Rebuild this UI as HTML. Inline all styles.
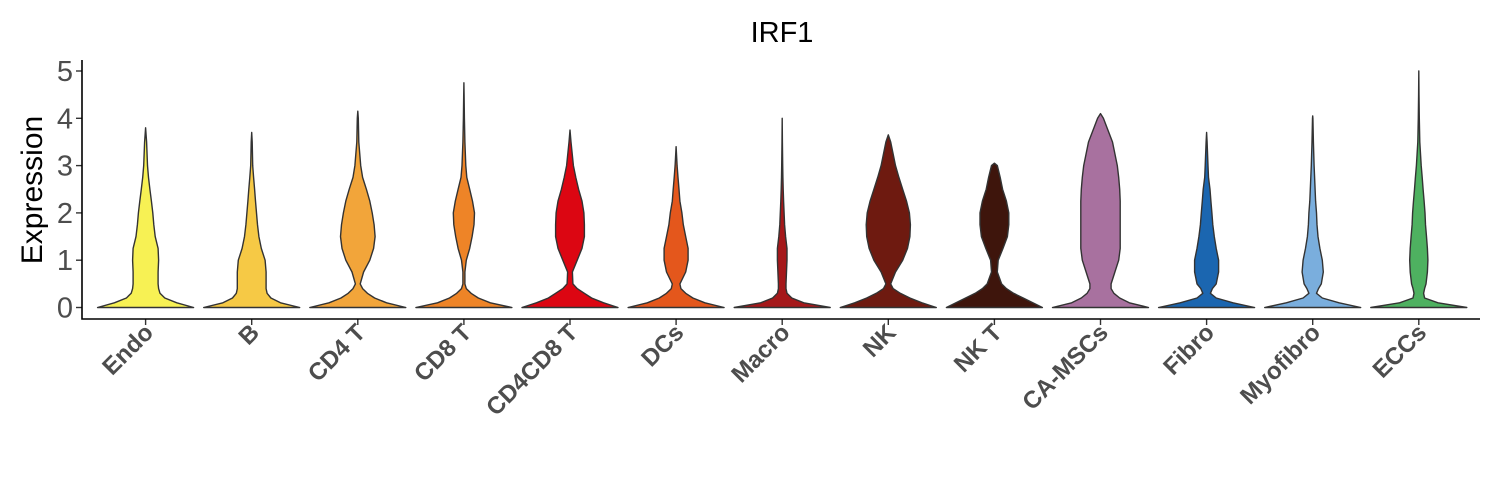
<!DOCTYPE html>
<html><head><meta charset="utf-8"><style>body{margin:0;background:#fff}svg{display:block}</style></head>
<body>
<svg id="chart" width="1500" height="500" xmlns="http://www.w3.org/2000/svg" font-family="Liberation Sans, sans-serif">
<text x="782" y="42" text-anchor="middle" font-size="29" fill="#000">IRF1</text>
<text transform="translate(42,190) rotate(-90)" text-anchor="middle" font-size="30" fill="#000">Expression</text>
<g id="plot"></g>
</svg>
<script>
const categories=["Endo","B","CD4 T","CD8 T","CD4CD8 T","DCs","Macro","NK","NK T","CA-MSCs","Fibro","Myofibro","ECCs"];
const colors=["#F7F154","#F6C945","#F2A53A","#EE8427","#DC0612","#E4571C","#A5181A","#6E1A10","#3E150C","#A8719F","#1B66B0","#7AAEDD","#4EB160"];
const levels=[0,0.1,0.2,0.3,0.4,0.5,0.75,1,1.25,1.5,1.75,2,2.25,2.5,2.75,3,3.5,4,4.5,5];
const maxVals=[3.8,3.7,4.15,4.75,3.75,3.4,4.0,3.65,3.05,4.1,3.7,4.05,5.0];
const densities=[
[1,.65,.4,.3,.27,.26,.26,.27,.26,.2,.17,.15,.12,.09,.06,.04,.02,.01],
[1,.6,.4,.32,.3,.3,.3,.28,.2,.15,.12,.1,.08,.06,.04,.02,.01],
[1,.6,.35,.2,.1,.05,.12,.25,.33,.36,.34,.3,.25,.18,.1,.06,.02,.01],
[1,.55,.3,.15,.05,.02,.02,.05,.12,.17,.21,.22,.18,.12,.06,.04,.02,.01,.005],
[1,.7,.45,.3,.15,.06,.05,.15,.25,.3,.3,.29,.25,.18,.12,.07,.02],
[1,.6,.35,.2,.1,.08,.2,.25,.25,.2,.15,.12,.08,.06,.04,.02,.01],
[1,.45,.2,.1,.08,.08,.09,.1,.1,.07,.05,.04,.03,.02,.015,.01,.005,.003],
[1,.7,.45,.25,.1,.05,.15,.3,.4,.45,.46,.44,.38,.3,.22,.15,.05],
[1,.8,.6,.4,.25,.15,.06,.08,.18,.27,.3,.3,.25,.17,.12,.06],
[1,.6,.4,.28,.22,.22,.3,.38,.41,.41,.41,.41,.41,.4,.38,.35,.25,.06],
[1,.55,.2,.08,.12,.2,.25,.25,.2,.16,.13,.11,.09,.07,.04,.03,.01],
[1,.55,.2,.08,.12,.18,.22,.2,.15,.11,.09,.08,.06,.05,.04,.03,.015,.005],
[1,.4,.12,.1,.12,.15,.18,.19,.18,.16,.14,.13,.11,.09,.07,.05,.02,.01,.005,.002]
];
const yTicks=[0,1,2,3,4,5];
const NS="http://www.w3.org/2000/svg";
const plot=document.getElementById('plot');
const y=v=>307.5-v*47.3;
const x=i=>145.6+i*106.1;
const HW=48;
function el(t,a){const e=document.createElementNS(NS,t);for(const k in a)e.setAttribute(k,a[k]);plot.appendChild(e);return e;}
categories.forEach((c,i)=>{
  const d=densities[i],m=maxVals[i];const pts=[];
  for(let j=0;j<levels.length;j++){if(levels[j]>=m)break;pts.push([levels[j],d[j]||0]);}
  pts.push([m,0]);
  const cx=x(i);
  let r=pts.map(p=>[cx+p[1]*HW,y(p[0])]),l=pts.slice().reverse().map(p=>[cx-p[1]*HW,y(p[0])]);
  const all=r.concat(l);
  let s='M'+all.map(p=>p[0].toFixed(1)+','+p[1].toFixed(1)).join('L')+'Z';
  const p=el('path',{d:s,fill:colors[i],stroke:'#333','stroke-width':1.4,'stroke-linejoin':'round'});
  
  
  const t=el('line',{x1:cx,x2:cx,y1:319,y2:325,stroke:'#333','stroke-width':1.4});
  
  
  const lb=el('text',{transform:`translate(${cx+9},${334}) rotate(-45)`,'text-anchor':'end','font-size':24,'font-weight':'bold',fill:'#4d4d4d'});
  lb.textContent=c;
  
  
});
yTicks.forEach(v=>{
  const t=el('line',{x1:76,x2:82,y1:y(v),y2:y(v),stroke:'#333','stroke-width':1.4});
  
  
  const lb=el('text',{x:73,y:y(v)+10,'text-anchor':'end','font-size':29,fill:'#4d4d4d'});
  lb.textContent=v;
  
  
});
const ax=el('path',{d:'M82,60V319H1480',fill:'none',stroke:'#000','stroke-width':1.6});


</script>
</body></html>
